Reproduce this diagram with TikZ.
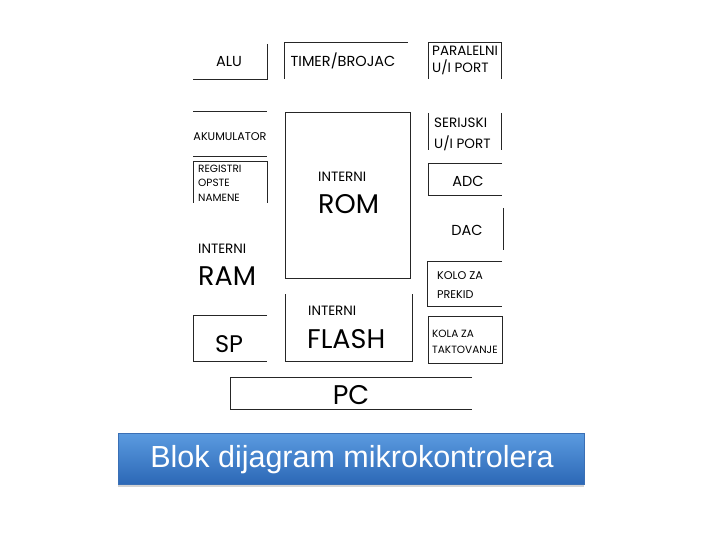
\documentclass[tikz,border=0pt]{standalone}
\usepackage{fontspec}
\setmainfont{Poppins}
\newfontfamily\naslovfont{Liberation Sans}
\usetikzlibrary{positioning,shadows}

\definecolor{plavagore}{HTML}{5B9BE0}
\definecolor{plavadole}{HTML}{2C68B6}
\definecolor{plavarub}{HTML}{3A6FB5}

\tikzset{
  blok/.style={inner sep=0pt, outer sep=0pt},
  ivica/.style={line width=1pt, black!85},
  mali/.style={inner sep=0pt, font=\fontsize{14.5}{14.5}\selectfont},
  srednji/.style={inner sep=0pt, font=\fontsize{13.5}{13.5}\selectfont},
  sitni/.style={inner sep=0pt, font=\fontsize{11.2}{11.2}\selectfont},
  tanki/.style={inner sep=0pt, font=\fontsize{10.5}{10.5}\selectfont},
  veliki/.style={inner sep=0pt, font=\fontsize{27}{27}\selectfont},
}

\begin{document}
\begin{tikzpicture}[x=1pt,y=-1pt]
    \useasboundingbox (0,0) rectangle (720,540);

    % blokovi
    \node[blok, minimum width=74pt, minimum height=36pt] (alu) at (230,62) {};
    \node[blok, minimum width=124pt, minimum height=36pt] (timer) at (346,61) {};
    \node[blok, minimum width=73pt, minimum height=36pt] (paralel) at (464.5,61) {};
    \node[blok, minimum width=74pt, minimum height=45pt] (akum) at (230,134.5) {};
    \node[blok, minimum width=125pt, minimum height=165pt] (rom) at (347.5,195.5) {};
    \node[blok, minimum width=73pt, minimum height=37pt] (serij) at (464.5,131.5) {};
    \node[blok, minimum width=74pt, minimum height=41pt] (regist) at (230,182.5) {};
    \node[blok, minimum width=74pt, minimum height=32pt] (adc) at (465,180) {};
    \node[blok, minimum width=75pt, minimum height=42pt] (dac) at (465.5,229) {};
    \node[blok, minimum width=75pt, minimum height=45pt] (prekid) at (464.5,283.5) {};
    \node[blok, minimum width=74pt, minimum height=46pt] (sp) at (230,338) {};
    \node[blok, minimum width=127pt, minimum height=67pt] (flash) at (348.5,327.5) {};
    \node[blok, minimum width=74pt, minimum height=47pt] (takt) at (465,339.5) {};
    \node[blok, minimum width=242pt, minimum height=32pt] (pc) at (351,393) {};

    % ivice
    \draw[ivica] (alu.north east) -- (alu.south east) -- (alu.south west);
    \draw[ivica] (timer.south west) -- (timer.north west) -- (timer.north east);
    \draw[ivica] (paralel.south west) -- (paralel.north west) -- (paralel.north east) -- (paralel.south east);
    \draw[ivica] (akum.north west) -- (akum.north east);
    \draw[ivica] (akum.south west) -- (akum.south east);
    \draw[ivica] (rom.north west) rectangle (rom.south east);
    \draw[ivica] (serij.north west) -- (serij.south west);
    \draw[ivica] (serij.north east) -- (serij.south east);
    \draw[ivica] (regist.south west) -- (regist.north west) -- (regist.north east) -- (regist.south east);
    \draw[ivica] (adc.north east) -- (adc.north west) -- (adc.south west) -- (adc.south east);
    \draw[ivica] (dac.north east) -- (dac.south east);
    \draw[ivica] (prekid.north east) -- (prekid.north west) -- (prekid.south west) -- (prekid.south east);
    \draw[ivica] (sp.north east) -- (sp.north west) -- (sp.south west) -- (sp.south east);
    \draw[ivica] (flash.north west) -- (flash.south west) -- (flash.south east) -- (flash.north east);
    \draw[ivica] (takt.north west) rectangle (takt.south east);
    \draw[ivica] (pc.north east) -- (pc.north west) -- (pc.south west) -- (pc.south east);

    % natpisi
    \node[mali, anchor=base] (alut) at (229,67) {ALU};
    \node[mali, anchor=base] (timert) at (343,67) {TIMER/BROJAC};
    \node[srednji, anchor=base west] (paralel1) at (432,56) {PARALELNI};
    \node[srednji, anchor=base west] (paralel2) at (432,73) {U/I PORT};
    \node[sitni, anchor=base] (akumt) at (230,141) {AKUMULATOR};
    \node[srednji, anchor=base west] (serij1) at (434,128) {SERIJSKI};
    \node[srednji, anchor=base west] (serij2) at (434,149) {U/I PORT};
    \node[tanki, anchor=base west] (regist1) at (198,173) {REGISTRI};
    \node[tanki, anchor=base west] (regist2) at (198,187) {OPSTE};
    \node[tanki, anchor=base west] (regist3) at (198,202) {NAMENE};
    \node[mali, anchor=base] (adct) at (468,187) {ADC};
    \node[mali, anchor=base] (dact) at (467,236) {DAC};
    \node[sitni, anchor=base west] (prekid1) at (437,279) {KOLO ZA};
    \node[sitni, anchor=base west] (prekid2) at (437,298) {PREKID};
    \node[tanki, anchor=base west] (takt1) at (432,337) {KOLA ZA};
    \node[tanki, anchor=base west] (takt2) at (432,353) {TAKTOVANJE};
    \node[srednji, anchor=base west] (romi) at (318,182) {INTERNI};
    \node[veliki, anchor=base west] (romt) at (318,214) {ROM};
    \node[srednji, anchor=base west] (rami) at (198,254) {INTERNI};
    \node[veliki, anchor=base west] (ramt) at (198,285) {RAM};
    \node[srednji, anchor=base west] (flashi) at (308,315) {INTERNI};
    \node[veliki, anchor=base west] (flasht) at (307,348) {FLASH};
    \node[inner sep=0pt, font=\fontsize{24}{24}\selectfont, anchor=base] (spt) at (229,352) {SP};
    \node[inner sep=0pt, font=\fontsize{27}{27}\selectfont, anchor=base] (pct) at (351,404) {PC};

    % naslov
    \node[blok, minimum width=466pt, minimum height=51pt, draw=plavarub, line width=0.6pt,
          top color=plavagore, bottom color=plavadole,
          drop shadow={opacity=0.35, shadow xshift=0pt, shadow yshift=-2.5pt}] (naslov) at (351,458.5) {};
    \node[inner sep=0pt, anchor=base, text=white, font=\naslovfont\fontsize{30.5}{30.5}\selectfont] (naslovt) at (352,467) {Blok dijagram mikrokontrolera};
\end{tikzpicture}
\end{document}
